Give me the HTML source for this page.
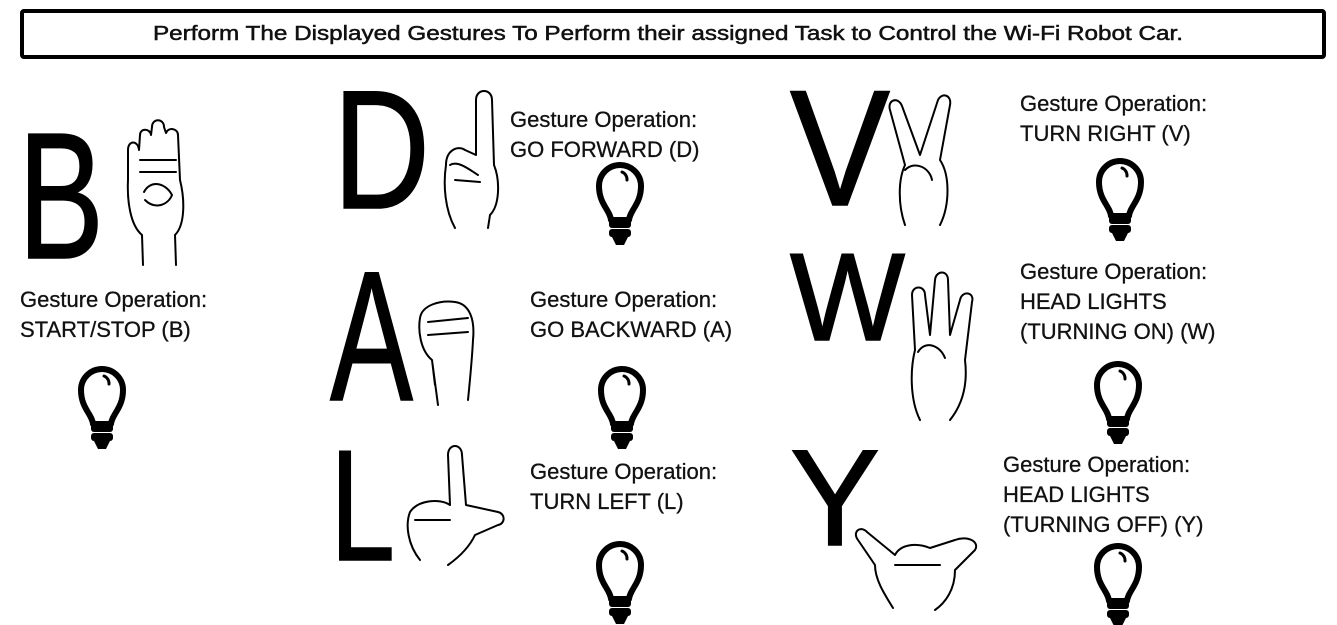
<!DOCTYPE html>
<html><head><meta charset="utf-8"><style>
html,body{margin:0;padding:0;background:#fff;}
svg{display:block}
.t{font-family:"Liberation Sans",sans-serif;font-size:22px;fill:#111;stroke:#111;stroke-width:0.3;}
.L{font-family:"Liberation Sans",sans-serif;fill:#000;stroke:#000;stroke-width:1.5;}
.h{fill:#fff;stroke:#000;stroke-width:2;stroke-linejoin:round;stroke-linecap:round}
</style></head><body>
<svg width="1337" height="625" viewBox="0 0 1337 625" xmlns="http://www.w3.org/2000/svg">
<defs>
<g id="bulb">
<path d="M-9,38 C-10,28 -21,22 -21,4 A21,21 0 1 1 21,4 C21,22 10,28 9,38 Z" fill="none" stroke="#000" stroke-width="6" stroke-linejoin="round"/>
<path d="M2,-10 A8,8 0 0 1 7,-2" fill="none" stroke="#000" stroke-width="3" stroke-linecap="round"/>
<rect x="-11" y="38" width="22" height="8" rx="3" fill="#000"/>
<rect x="-11" y="47" width="22" height="8" rx="3" fill="#000"/>
<path d="M-8,55 L8,55 L4,63 L-4,63 Z" fill="#000"/>
</g>
</defs>
<rect x="22" y="11" width="1302" height="46" fill="#fff" stroke="#000" stroke-width="4" rx="2"/>
<text x="153" y="40" class="t" style="font-size:20px;stroke-width:0.5" textLength="1030" lengthAdjust="spacingAndGlyphs">Perform The Displayed Gestures To Perform their assigned Task to Control the Wi-Fi Robot Car.</text>

<text class="L" x="18" y="258" font-size="180" textLength="86" lengthAdjust="spacingAndGlyphs">B</text>
<text class="L" x="333" y="208" font-size="169" textLength="97" lengthAdjust="spacingAndGlyphs">D</text>
<text class="L" x="330" y="400" font-size="185" textLength="83" lengthAdjust="spacingAndGlyphs">A</text>
<text class="L" x="330" y="560" font-size="158" textLength="65" lengthAdjust="spacingAndGlyphs">L</text>
<text class="L" x="790" y="205" font-size="165" textLength="100" lengthAdjust="spacingAndGlyphs">V</text>
<text class="L" x="790" y="340" font-size="124" textLength="115" lengthAdjust="spacingAndGlyphs">W</text>
<text class="L" x="790" y="545" font-size="137" textLength="90" lengthAdjust="spacingAndGlyphs">Y</text>

<g class="h">
<path d="M143,265 L142,235 C130,225 127,200 128,180 L128,150 C128,140 138,140 139,150 L140,135 C140,128 150,128 151,135 L152,127 C152,118 164,118 164,127 L166,133 C168,127 178,128 178,135 L180,180 C185,200 185,225 175,235 L176,265"/>
<path d="M144,192 C150,180 165,182 172,195 C168,205 155,210 145,200"/>
<line x1="140" y1="160" x2="176" y2="160"/><line x1="140" y1="172" x2="176" y2="172"/>
</g>
<g class="h">
<path d="M455,228 C445,210 443,185 446,165 C446,150 458,145 465,150 L476,155 L476,100 C476,88 492,88 492,100 L494,165 C500,180 500,205 490,215 L488,228"/>
<path d="M450,165 C458,160 470,170 478,175 M455,180 L480,182"/>
</g>
<g class="h">
<path d="M435,385 L432,360 C420,350 418,330 420,318 C422,305 440,300 455,302 C470,304 475,320 473,340 C472,360 470,380 468,400 M432,360 L438,405"/>
<line x1="428" y1="322" x2="468" y2="318"/><line x1="428" y1="335" x2="468" y2="332"/>
</g>
<g class="h">
<path d="M420,560 C408,545 405,525 410,512 C418,500 440,498 450,505 L448,455 C448,443 462,443 462,455 L466,505 L498,512 C506,514 505,524 498,525 L475,535 C468,550 455,560 448,565"/>
<line x1="415" y1="520" x2="450" y2="520"/>
</g>
<g class="h">
<path d="M905,225 C898,205 898,180 905,165 L890,110 C887,100 898,96 902,106 L920,155 L938,100 C942,92 952,95 950,105 L940,160 C950,175 950,205 940,225"/>
<path d="M905,170 C915,160 930,168 932,180"/>
</g>
<g class="h">
<path d="M920,420 C910,400 910,370 915,350 L912,295 C912,285 925,285 925,295 L930,335 L935,280 C936,270 948,270 948,280 L950,335 L960,300 C962,290 975,292 972,302 L965,360 C968,385 962,405 950,420"/>
<path d="M918,352 C925,340 940,345 945,358"/>
</g>
<g class="h">
<path d="M893,608 C885,595 875,580 875,565 L858,540 C852,532 860,525 867,532 L895,555 C900,545 915,542 930,548 L955,540 C968,535 980,542 975,550 L955,570 C955,590 945,603 935,610"/>
<path d="M895,565 L940,565"/>
</g>

<text class="t" x="20" y="307">Gesture Operation:</text>
<text class="t" x="20" y="337">START/STOP (B)</text>
<use href="#bulb" x="102" y="386"/>

<text class="t" x="510" y="127">Gesture Operation:</text>
<text class="t" x="510" y="157">GO FORWARD (D)</text>
<use href="#bulb" x="620" y="182"/>

<text class="t" x="530" y="307">Gesture Operation:</text>
<text class="t" x="530" y="337">GO BACKWARD (A)</text>
<use href="#bulb" x="622" y="386"/>

<text class="t" x="530" y="479">Gesture Operation:</text>
<text class="t" x="530" y="509">TURN LEFT (L)</text>
<use href="#bulb" x="620" y="561"/>

<text class="t" x="1020" y="111">Gesture Operation:</text>
<text class="t" x="1020" y="141">TURN RIGHT (V)</text>
<use href="#bulb" x="1120" y="178"/>

<text class="t" x="1020" y="279">Gesture Operation:</text>
<text class="t" x="1020" y="309">HEAD LIGHTS</text>
<text class="t" x="1020" y="339">(TURNING ON) (W)</text>
<use href="#bulb" x="1118" y="381"/>

<text class="t" x="1003" y="472">Gesture Operation:</text>
<text class="t" x="1003" y="502">HEAD LIGHTS</text>
<text class="t" x="1003" y="532">(TURNING OFF) (Y)</text>
<use href="#bulb" x="1118" y="563"/>
</svg>
</body></html>
